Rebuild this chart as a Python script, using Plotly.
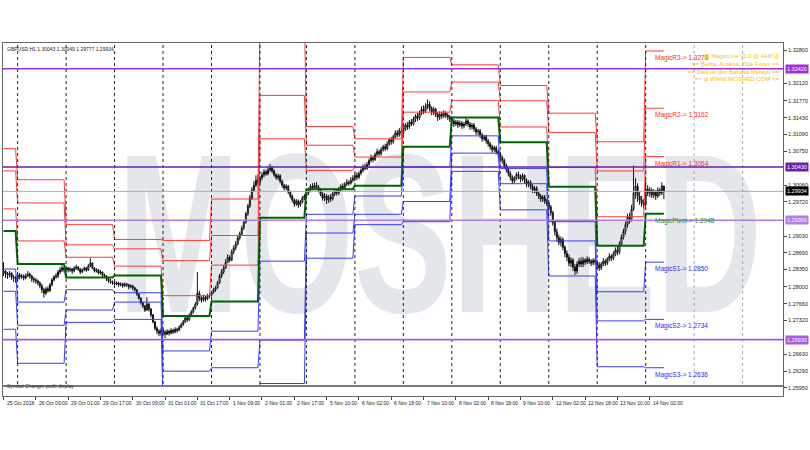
import numpy as np
import plotly.graph_objects as go

# GBPUSD H1, 25 Oct 2018 17:00 -> 14 Nov 2018 09:00 (prices in pips, /10000)
PIP = 10000.0

# bars per trading day: 25 Oct, 26 Oct, 29 Oct, 30 Oct, 31 Oct, 1 Nov, 2 Nov, 5 Nov ... 14 Nov
day_bars = [7, 24, 24, 24, 24, 24, 23, 24, 24, 24, 24, 24, 24, 24, 10]

opens = [
    12826, 12832, 12826, 12824, 12828, 12820, 12818,
    12816, 12824, 12820, 12822, 12818, 12822, 12826, 12822, 12816, 12814, 12812, 12808, 12802, 12794, 12787, 12796, 12792, 12804, 12814, 12820, 12822, 12830, 12834, 12838,
    12834, 12838, 12834, 12836, 12832, 12838, 12840, 12836, 12830, 12834, 12838, 12834, 12842, 12848, 12838, 12832, 12834, 12828, 12830, 12824, 12822, 12816, 12812, 12810,
    12808, 12806, 12808, 12804, 12806, 12802, 12806, 12804, 12800, 12802, 12798, 12794, 12785, 12777, 12767, 12761, 12753, 12765, 12755, 12743, 12729, 12716, 12710, 12706,
    12712, 12708, 12704, 12710, 12706, 12712, 12708, 12714, 12712, 12718, 12723, 12729, 12737, 12733, 12743, 12749, 12757, 12765, 12787, 12777, 12773, 12779, 12775, 12781,
    12783, 12789, 12794, 12798, 12808, 12822, 12830, 12838, 12850, 12860, 12854, 12871, 12879, 12887, 12899, 12907, 12919, 12931, 12948, 12964, 12980, 12996, 13006, 13016,
    13012, 13021, 13027, 13033, 13029, 13037, 13041, 13035, 13027, 13021, 13025, 13014, 13006, 13000, 13004, 12992, 12984, 12976, 12968, 12974, 12966, 12972, 12980,
    12984, 12990, 12996, 13004, 13000, 13006, 13002, 12996, 12988, 12980, 12984, 12976, 12982, 12978, 12988, 12994, 12990, 12998, 13004, 13000, 13008, 13012, 13010, 13016,
    13020, 13026, 13022, 13030, 13036, 13044, 13040, 13048, 13056, 13062, 13058, 13068, 13074, 13070, 13078, 13084, 13080, 13090, 13098, 13094, 13104, 13112, 13108, 13116,
    13112, 13120, 13128, 13124, 13134, 13130, 13140, 13146, 13142, 13152, 13160, 13156, 13166, 13170, 13162, 13154, 13160, 13150, 13144, 13150, 13146, 13152, 13148, 13144,
    13140, 13136, 13130, 13134, 13128, 13132, 13126, 13130, 13136, 13130, 13124, 13128, 13120, 13114, 13116, 13108, 13100, 13104, 13096, 13090, 13084, 13078, 13082, 13074,
    13070, 13062, 13056, 13046, 13038, 13030, 13022, 13014, 13020, 13028, 13024, 13018, 13026, 13016, 13008, 13012, 13004, 12996, 13000, 12990, 12984, 12978, 12982, 12974,
    12970, 12962, 12950, 12930, 12912, 12900, 12890, 12896, 12880, 12868, 12860, 12848, 12854, 12840, 12832, 12846, 12852, 12846, 12854, 12850, 12856, 12852, 12848, 12854,
    12850, 12844, 12838, 12846, 12852, 12848, 12856, 12862, 12858, 12866, 12874, 12870, 12886, 12900, 12912, 12926, 12942, 12936, 12958, 12990, 13004, 12984, 12976, 12970,
    12966, 12998, 12990, 12996, 12986, 12992, 12984, 12996, 12990, 13004.3,
]
highs = [
    12850, 12834, 12830, 12832, 12829, 12824, 12822,
    12830, 12828, 12826, 12825, 12827, 12832, 12829, 12824, 12820, 12818, 12815, 12811, 12806, 12798, 12800, 12801, 12808, 12818, 12824, 12828, 12834, 12840, 12844, 12840,
    12842, 12840, 12840, 12838, 12842, 12845, 12842, 12838, 12837, 12841, 12840, 12846, 12858, 12850, 12840, 12838, 12836, 12834, 12831, 12827, 12824, 12818, 12816, 12813,
    12812, 12811, 12810, 12809, 12808, 12809, 12808, 12806, 12805, 12804, 12800, 12796, 12787, 12779, 12770, 12763, 12779, 12768, 12757, 12745, 12731, 12720, 12714, 12716,
    12716, 12712, 12714, 12713, 12716, 12715, 12718, 12717, 12722, 12727, 12733, 12740, 12740, 12746, 12753, 12760, 12769, 12830, 12792, 12781, 12784, 12782, 12786, 12788,
    12792, 12798, 12802, 12812, 12826, 12836, 12844, 12856, 12866, 12864, 12876, 12884, 12893, 12903, 12912, 12924, 12936, 12952, 12968, 12986, 13002, 13014, 13026, 13028,
    13025, 13032, 13038, 13037, 13042, 13049, 13045, 13038, 13030, 13029, 13028, 13017, 13009, 13008, 13006, 12995, 12987, 12979, 12978, 12977, 12976, 12984, 12988,
    12996, 13001, 13008, 13010, 13011, 13012, 13006, 13000, 12992, 12990, 12988, 12986, 12988, 12992, 12999, 12998, 13002, 13008, 13010, 13012, 13018, 13016, 13022, 13026,
    13030, 13032, 13034, 13040, 13048, 13050, 13053, 13060, 13068, 13066, 13072, 13080, 13078, 13083, 13088, 13090, 13095, 13102, 13104, 13108, 13117, 13118, 13122, 13125,
    13126, 13132, 13134, 13138, 13140, 13145, 13150, 13152, 13157, 13166, 13168, 13172, 13180, 13176, 13166, 13165, 13163, 13154, 13156, 13155, 13158, 13156, 13152, 13148,
    13146, 13140, 13138, 13138, 13137, 13136, 13134, 13142, 13140, 13134, 13132, 13132, 13124, 13120, 13120, 13112, 13108, 13108, 13100, 13094, 13088, 13086, 13086, 13078,
    13074, 13066, 13060, 13050, 13042, 13034, 13026, 13024, 13032, 13034, 13028, 13030, 13028, 13020, 13016, 13016, 13008, 13004, 13004, 12994, 12988, 12986, 12986, 12978,
    12976, 12966, 12954, 12934, 12918, 12906, 12902, 12900, 12884, 12874, 12866, 12860, 12858, 12846, 12852, 12858, 12860, 12860, 12858, 12862, 12860, 12856, 12858, 12858,
    12854, 12850, 12850, 12858, 12856, 12860, 12868, 12866, 12872, 12880, 12882, 12892, 12906, 12918, 12932, 12948, 12950, 12966, 13046, 13020, 13010, 12992, 12984, 12978,
    13016, 13006, 13002, 13000, 12998, 12996, 13002, 13000, 13012, 13004.9,
]
lows = [
    12822, 12818, 12816, 12819, 12814, 12810, 12808,
    12812, 12815, 12816, 12813, 12815, 12820, 12817, 12810, 12808, 12806, 12803, 12797, 12787, 12778, 12783, 12788, 12790, 12801, 12811, 12816, 12818, 12826, 12830, 12829,
    12829, 12829, 12830, 12826, 12829, 12834, 12832, 12826, 12828, 12832, 12830, 12832, 12840, 12836, 12829, 12829, 12825, 12825, 12820, 12818, 12812, 12808, 12806, 12804,
    12802, 12803, 12800, 12801, 12798, 12800, 12800, 12795, 12797, 12793, 12790, 12782, 12774, 12764, 12757, 12749, 12751, 12750, 12738, 12726, 12712, 12704, 12700, 12701,
    12702, 12696, 12702, 12701, 12704, 12704, 12706, 12707, 12710, 12716, 12721, 12727, 12729, 12731, 12740, 12746, 12754, 12762, 12771, 12768, 12770, 12770, 12773, 12777,
    12780, 12786, 12790, 12796, 12806, 12818, 12826, 12836, 12848, 12850, 12852, 12866, 12874, 12884, 12894, 12903, 12915, 12928, 12944, 12960, 12976, 12992, 13002, 13006,
    13008, 13016, 13022, 13025, 13026, 13033, 13030, 13023, 13017, 13016, 13010, 13001, 12995, 12996, 12988, 12979, 12971, 12962, 12964, 12960, 12962, 12969, 12976,
    12980, 12986, 12992, 12996, 12997, 12998, 12992, 12984, 12975, 12974, 12968, 12970, 12972, 12975, 12984, 12985, 12986, 12994, 12996, 12997, 13004, 13005, 13007, 13012,
    13014, 13016, 13018, 13026, 13032, 13036, 13037, 13044, 13052, 13052, 13055, 13064, 13064, 13066, 13074, 13075, 13077, 13086, 13088, 13090, 13100, 13103, 13104, 13106,
    13108, 13116, 13118, 13120, 13126, 13127, 13134, 13136, 13138, 13148, 13150, 13152, 13160, 13156, 13148, 13148, 13144, 13136, 13138, 13140, 13142, 13142, 13138, 13134,
    13130, 13124, 13126, 13122, 13124, 13120, 13121, 13126, 13124, 13118, 13119, 13114, 13108, 13108, 13102, 13094, 13096, 13090, 13084, 13078, 13072, 13074, 13068, 13062,
    13056, 13050, 13040, 13032, 13024, 13016, 13008, 13010, 13016, 13018, 13012, 13014, 13010, 13002, 13002, 12998, 12990, 12990, 12984, 12978, 12972, 12972, 12968, 12964,
    12956, 12944, 12924, 12904, 12892, 12884, 12882, 12874, 12860, 12852, 12842, 12840, 12832, 12824, 12826, 12840, 12840, 12840, 12844, 12846, 12846, 12842, 12844, 12844,
    12836, 12832, 12834, 12842, 12842, 12844, 12852, 12852, 12854, 12862, 12864, 12866, 12882, 12896, 12906, 12920, 12928, 12932, 12954, 12978, 12972, 12966, 12962, 12958,
    12962, 12984, 12982, 12980, 12980, 12976, 12980, 12984, 12986, 12977.7,
]
closes = [
    12832, 12826, 12824, 12828, 12820, 12818, 12816,
    12824, 12820, 12822, 12818, 12822, 12826, 12822, 12816, 12814, 12812, 12808, 12802, 12794, 12787, 12796, 12792, 12804, 12814, 12820, 12822, 12830, 12834, 12838, 12834,
    12838, 12834, 12836, 12832, 12838, 12840, 12836, 12830, 12834, 12838, 12834, 12842, 12848, 12838, 12832, 12834, 12828, 12830, 12824, 12822, 12816, 12812, 12810, 12808,
    12806, 12808, 12804, 12806, 12802, 12806, 12804, 12800, 12802, 12798, 12794, 12785, 12777, 12767, 12761, 12753, 12765, 12755, 12743, 12729, 12716, 12710, 12706, 12712,
    12708, 12704, 12710, 12706, 12712, 12708, 12714, 12712, 12718, 12723, 12729, 12737, 12733, 12743, 12749, 12757, 12765, 12787, 12777, 12773, 12779, 12775, 12781, 12783,
    12789, 12794, 12798, 12808, 12822, 12830, 12838, 12850, 12860, 12854, 12871, 12879, 12887, 12899, 12907, 12919, 12931, 12948, 12964, 12980, 12996, 13006, 13016, 13012,
    13021, 13027, 13033, 13029, 13037, 13041, 13035, 13027, 13021, 13025, 13014, 13006, 13000, 13004, 12992, 12984, 12976, 12968, 12974, 12966, 12972, 12980, 12984,
    12990, 12996, 13004, 13000, 13006, 13002, 12996, 12988, 12980, 12984, 12976, 12982, 12978, 12988, 12994, 12990, 12998, 13004, 13000, 13008, 13012, 13010, 13016, 13020,
    13026, 13022, 13030, 13036, 13044, 13040, 13048, 13056, 13062, 13058, 13068, 13074, 13070, 13078, 13084, 13080, 13090, 13098, 13094, 13104, 13112, 13108, 13116, 13112,
    13120, 13128, 13124, 13134, 13130, 13140, 13146, 13142, 13152, 13160, 13156, 13166, 13170, 13162, 13154, 13160, 13150, 13144, 13150, 13146, 13152, 13148, 13144, 13140,
    13136, 13130, 13134, 13128, 13132, 13126, 13130, 13136, 13130, 13124, 13128, 13120, 13114, 13116, 13108, 13100, 13104, 13096, 13090, 13084, 13078, 13082, 13074, 13070,
    13062, 13056, 13046, 13038, 13030, 13022, 13014, 13020, 13028, 13024, 13018, 13026, 13016, 13008, 13012, 13004, 12996, 13000, 12990, 12984, 12978, 12982, 12974, 12970,
    12962, 12950, 12930, 12912, 12900, 12890, 12896, 12880, 12868, 12860, 12848, 12854, 12840, 12832, 12846, 12852, 12846, 12854, 12850, 12856, 12852, 12848, 12854, 12850,
    12844, 12838, 12846, 12852, 12848, 12856, 12862, 12858, 12866, 12874, 12870, 12886, 12900, 12912, 12926, 12942, 12936, 12958, 12990, 13004, 12984, 12976, 12970, 12966,
    12998, 12990, 12996, 12986, 12992, 12984, 12996, 12990, 13004.3, 12993.4,
]

# MagicLine daily pivot levels (one value per day, pips)
r3 = [13080, 13017, 12926, 12896, 12894, 12978, 13348, 13125, 13100, 13265, 13250, 13208, 13152, 13094, 13278]
r2 = [13035, 12970, 12885, 12877, 12853, 12904, 13188, 13087, 13063, 13195, 13215, 13177, 13113, 13035, 13162]
r1 = [12958, 12893, 12860, 12842, 12782, 12844, 13100, 13036, 13042, 13154, 13178, 13124, 13042, 12942, 13064]
pp = [12913, 12846, 12819, 12823, 12741, 12770, 12940, 12998, 13005, 13084, 13143, 13093, 13003, 12883, 12948]
s1 = [12836, 12769, 12794, 12788, 12670, 12710, 12852, 12947, 12984, 13043, 13106, 13040, 12932, 12790, 12850]
s2 = [12791, 12722, 12753, 12769, 12629, 12636, 12692, 12909, 12947, 12973, 13071, 13009, 12893, 12731, 12734]
s3 = [12714, 12645, 12728, 12734, 12558, 12576, 12604, 12858, 12926, 12932, 13034, 12956, 12822, 12638, 12636]

# day separators (bar index of 00:00) and the two future ones
sep_idx = [7, 31, 55, 79, 103, 127, 150, 174, 198, 222, 246, 270, 294, 318]
future_sep_idx = [342, 366]

x_tick_idx = [0, 16, 32, 48, 64, 80, 96, 112, 128, 144, 160, 176, 192, 208, 224, 240, 256, 272, 288, 304, 320]
x_tick_text = ["25 Oct 2018", "26 Oct 09:00", "29 Oct 01:00", "29 Oct 17:00", "30 Oct 09:00",
               "31 Oct 01:00", "31 Oct 17:00", "1 Nov 09:00", "2 Nov 01:00", "2 Nov 17:00",
               "5 Nov 10:00", "6 Nov 02:00", "6 Nov 18:00", "7 Nov 10:00", "8 Nov 02:00",
               "8 Nov 18:00", "9 Nov 10:00", "12 Nov 02:00", "12 Nov 18:00", "13 Nov 10:00",
               "14 Nov 02:00"]

# price scale labels (those hidden under the purple line labels are left out)
y_ticks = [1.32800, 1.32120, 1.31770, 1.31430, 1.31090, 1.30750, 1.30060,
           1.29720, 1.29030, 1.28690, 1.28350, 1.28000, 1.27660, 1.27320,
           1.26630, 1.26290, 1.25950]

purple_levels = [1.32420, 1.30430, 1.29350, 1.26930]
purple_colors = ["#9b30d9", "#6a1fa8", "#b57ae6", "#a75bdc"]
bid_price = 1.29934

FONT = "Liberation Sans, Arial, sans-serif"
n = len(closes)
bar_x = np.arange(n)

fig = go.Figure()

# pivot lines
pivot_specs = [
    (r3, "#ff3a3a", 1), (r2, "#ff3a3a", 1), (r1, "#ff3a3a", 1),
    (pp, "#006400", 2),
    (s1, "#3a3aff", 1), (s2, "#3a3aff", 1), (s3, "#3a3aff", 1),
]
for levels, color, w in pivot_specs:
    fig.add_trace(go.Scatter(
        x=bar_x, y=np.repeat(np.array(levels) / PIP, day_bars),
        mode="lines", line=dict(color=color, width=w), hoverinfo="skip"
    ))

fig.add_trace(go.Candlestick(
    x=bar_x,
    open=np.array(opens) / PIP, high=np.array(highs) / PIP,
    low=np.array(lows) / PIP, close=np.array(closes) / PIP,
    increasing=dict(line=dict(color="#111111", width=1), fillcolor="white"),
    decreasing=dict(line=dict(color="#111111", width=1), fillcolor="#111111"),
    whiskerwidth=0,
))

# watermark behind everything (squeezed horizontally after render)
fig.add_shape(
    type="rect", xref="paper", yref="paper", x0=0.30, x1=0.82, y0=0.42, y1=0.62,
    line=dict(width=0), fillcolor="rgba(0,0,0,0)", layer="below",
    label=dict(text="<b>MOSHED</b>", textposition="middle center",
               font=dict(size=226, color="#e3e6ea", family="Liberation Sans, sans-serif")),
)

# day separators
for i in sep_idx:
    fig.add_shape(type="line", xref="x", yref="paper", x0=i, x1=i, y0=0, y1=1,
                  line=dict(color="#222222", width=1, dash="dot"))
for i in future_sep_idx:
    fig.add_shape(type="line", xref="x", yref="paper", x0=i, x1=i, y0=0, y1=1,
                  line=dict(color="#a8a8a8", width=1, dash="dot"))

# horizontal purple lines and bid line
for lvl, col in zip(purple_levels, purple_colors):
    fig.add_shape(type="line", xref="paper", yref="y", x0=0, x1=1, y0=lvl, y1=lvl,
                  line=dict(color=col, width=1.6))
    fig.add_annotation(x=1, xref="paper", y=lvl, yref="y", xanchor="left", xshift=2,
                       text=f"{lvl:.5f}", showarrow=False, bgcolor=col, borderpad=1,
                       font=dict(size=5.5, color="white", family=FONT))
fig.add_shape(type="line", xref="paper", yref="y", x0=0, x1=1, y0=bid_price, y1=bid_price,
              line=dict(color="#a7b0bc", width=1))
fig.add_annotation(x=1, xref="paper", y=bid_price, yref="y", xanchor="left", xshift=2,
                   text=f"{bid_price:.5f}", showarrow=False, bgcolor="black", borderpad=1,
                   font=dict(size=5.5, color="white", family=FONT))

# bottom indicator strip
strip_top = 10 / 353
fig.add_shape(type="rect", xref="paper", yref="paper", x0=0, x1=1, y0=0, y1=strip_top,
              line=dict(width=0), fillcolor="white", layer="above")
fig.add_shape(type="line", xref="paper", yref="paper", x0=0, x1=1, y0=strip_top, y1=strip_top,
              line=dict(color="#7a7a7a", width=2))
fig.add_annotation(x=0.003, xref="paper", y=strip_top / 2, yref="paper", xanchor="left",
                   text="Symbol Changer profit display", showarrow=False,
                   font=dict(size=5, color="#333333", family=FONT))

# magic labels on the current day
last = -1
magic = [
    ("MagicR3-> ", r3[last], "#ff2a2a"), ("MagicR2-> ", r2[last], "#ff2a2a"),
    ("MagicR1-> ", r1[last], "#ff2a2a"), ("MagicPivot-> ", pp[last], "#1e8c1e"),
    ("MagicS1-> ", s1[last], "#2a2aff"), ("MagicS2-> ", s2[last], "#2a2aff"),
    ("MagicS3-> ", s3[last], "#2a2aff"),
]
for name, lvl, col in magic:
    fig.add_annotation(x=321.5, xref="x", y=lvl / PIP, yref="y", xanchor="left", yanchor="top",
                       yshift=-1, text=f"{name}{lvl / PIP:.4f}", showarrow=False,
                       font=dict(size=6.5, color=col, family=FONT))

# info text
fig.add_annotation(x=0.999, xref="paper", y=0.978, yref="paper", xanchor="right", yanchor="top",
                   align="right", showarrow=False,
                   text="[[[ MagicLine v2.0 @ Aktif ]]]<br>== Berita, Analisa, Tips Forex ==<br>"
                        "== Diskusi dlm Bahasa Melayu ==<br>=> di WWW.MOSHED.COM <=",
                   font=dict(size=6, color="#f2c200", family=FONT))
fig.add_annotation(x=0.003, xref="paper", y=0.997, yref="paper", xanchor="left", yanchor="top",
                   text="GBPUSD,H1 1.30043 1.30049 1.29777 1.29934", showarrow=False,
                   font=dict(size=5, color="#222222", family=FONT))

# x labels, left aligned at tick
for i, t in zip(x_tick_idx, x_tick_text):
    fig.add_annotation(x=i, xref="x", y=0, yref="paper", xanchor="left", yanchor="top",
                       yshift=-2, xshift=1, text=t, showarrow=False,
                       font=dict(size=5, color="#222222", family=FONT))

fig.update_layout(
    width=810, height=450,
    margin=dict(l=2, r=24, t=43, b=54),
    paper_bgcolor="white", plot_bgcolor="white",
    showlegend=False,
    xaxis=dict(range=[-0.25, 386], rangeslider=dict(visible=False), tickvals=x_tick_idx,
               showticklabels=False, ticks="outside", ticklen=3, tickcolor="#444",
               showgrid=False, zeroline=False, showline=True, linecolor="#666",
               linewidth=1, mirror=True),
    yaxis=dict(side="right", range=[1.25787, 1.32942], tickvals=y_ticks,
               ticktext=[f"{v:.5f}" for v in y_ticks], ticks="outside", ticklen=3,
               tickcolor="#444", tickfont=dict(size=5.5, color="#222", family=FONT),
               showgrid=False, zeroline=False, showline=True, linecolor="#666",
               linewidth=1, mirror=True),
)

post = """
document.body.style.margin = '0';
var gd = document.getElementById('{plot_id}');
gd.querySelectorAll('text').forEach(function (t) {
  if (t.textContent === 'MOSHED') {
    var b = t.getBBox();
    var cx = b.x + b.width / 2;
    var prev = t.getAttribute('transform') || '';
    t.setAttribute('transform', 'translate(' + cx + ',0) scale(0.65,1) translate(' + (-cx) + ',0) ' + prev);
  }
});
"""
fig.write_html("out.html", post_script=post, config={"displayModeBar": False})
